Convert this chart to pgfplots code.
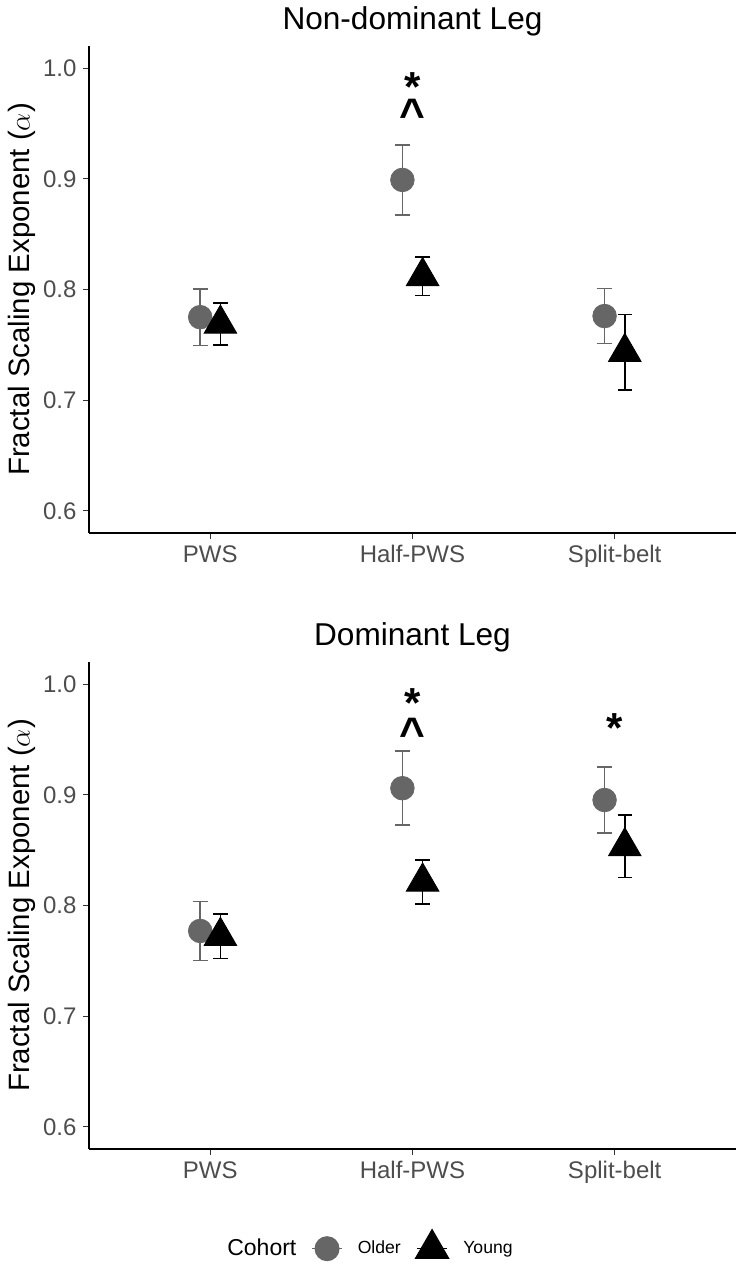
\documentclass[border=0pt]{standalone}
\usepackage{fontspec}
\setmainfont{Liberation Sans}
\usepackage{graphicx}
\usepackage{pgfplots}
\usepackage{pgfplotstable}
\pgfplotsset{compat=1.18}
\definecolor{older}{RGB}{102,102,102}
\definecolor{ticklab}{RGB}{77,77,77}

\pgfplotstableread{
x y e
0.95 0.775 0.0255
1.95 0.899 0.0315
2.95 0.776 0.0248
}\nondomOlder
\pgfplotstableread{
x y e
1.05 0.769 0.019
2.05 0.812 0.0175
3.05 0.7435 0.034
}\nondomYoung
\pgfplotstableread{
x y e
0.95 0.777 0.0267
1.95 0.906 0.0334
2.95 0.8953 0.0299
}\domOlder
\pgfplotstableread{
x y e
1.05 0.7724 0.0202
2.05 0.8215 0.0199
3.05 0.8534 0.0282
}\domYoung

\tikzset{annot/.style={font=\fontsize{21}{22}\selectfont\bfseries, anchor=base, text=black, inner sep=0pt}}
\newcommand{\caret}{\scalebox{1.05}[1.05]{\textasciicircum}}
\pgfplotsset{
 panel/.style={
  scale only axis, width=323.5pt, height=243.5pt,
  xmin=0.4, xmax=3.6, ymin=0.58, ymax=1.02,
  axis x line*=bottom, axis y line*=left,
  axis line style={line width=0.8pt, black},
  xtick={1,2,3}, xticklabels={PWS,Half-PWS,Split-belt},
  ytick={0.6,0.7,0.8,0.9,1.0},
  /pgf/number format/fixed, /pgf/number format/fixed zerofill,
  /pgf/number format/precision=1, /pgf/number format/assume math mode=true,
  tick align=outside, major tick length=2.75pt,
  tick style={line width=0.6pt, color=black!80},
  ticklabel style={font=\fontsize{12}{14}\selectfont, color=ticklab},
  title style={font=\fontsize{15.8}{18}\selectfont, at={(0.5,1)}, anchor=base, yshift=2.5pt},
  ylabel={Fractal Scaling Exponent ($\alpha$)},
  ylabel style={font=\fontsize{14.7}{17}\selectfont, at={(axis description cs:-0.1035,0.5)}, anchor=center},
  clip=false,
 },
 olderplot/.style={only marks, mark=*, mark size=5.9pt, color=older,
   error bars/.cd, y dir=both, y explicit,
   error bar style={line width=0.85pt, color=older},
   error mark options={rotate=90, line width=0.85pt, mark size=3.7pt, color=older}},
 youngplot/.style={only marks, mark=triangle*, mark size=9.4pt, color=black,
   error bars/.cd, y dir=both, y explicit,
   error bar style={line width=0.85pt, color=black},
   error mark options={rotate=90, line width=0.85pt, mark size=3.6pt, color=black}},
}

\begin{document}
\begin{tikzpicture}
\path[use as bounding box] (-44.5pt,-368.5pt) rectangle (325pt,266.5pt);

\begin{axis}[panel, title={Non-dominant Leg}]
\addplot[olderplot] table[x=x,y=y,y error=e]{\nondomOlder};
\addplot[youngplot] table[x=x,y=y,y error=e]{\nondomYoung};
\node[annot] at (axis cs:2,0.970) {*};
\node[annot] at (axis cs:2,0.945) {\caret};
\end{axis}

\begin{axis}[panel, at={(0pt,-308pt)}, title={Dominant Leg},
  legend style={at={(0.4227,-0.1975)}, anchor=center, draw=none, fill=none,
    legend columns=-1, font=\fontsize{8.8}{10}\selectfont,
    /tikz/column sep=7.5pt, nodes={inner sep=0pt}},
  legend image code/.code={\draw[#1, sharp plot, line width=0.7pt, mark repeat=2, mark phase=2]
     plot coordinates {(0pt,0pt) (7.5pt,0pt) (15pt,0pt)};}]
\addlegendimage{empty legend}
\addlegendentry{\fontsize{11.5}{13}\selectfont Cohort}
\addplot[olderplot] table[x=x,y=y,y error=e]{\domOlder};
\addlegendentry{Older}
\addplot[youngplot] table[x=x,y=y,y error=e]{\domYoung};
\addlegendentry{Young}
\node[annot] at (axis cs:2,0.970) {*};
\node[annot] at (axis cs:2,0.942) {\caret};
\node[annot] at (axis cs:3,0.947) {*};
\end{axis}
\end{tikzpicture}
\end{document}
